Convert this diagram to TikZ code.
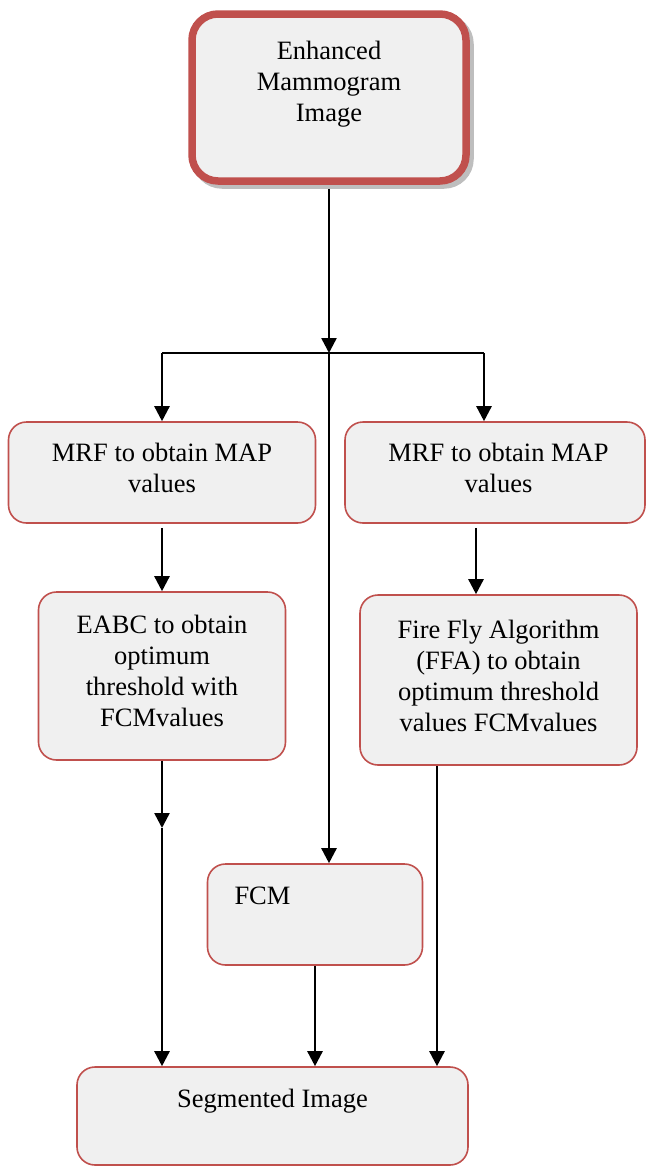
\documentclass[tikz,border=0pt]{standalone}
\usepackage{fontspec}
\setmainfont{Liberation Serif}
\usetikzlibrary{arrows.meta}
\definecolor{boxred}{HTML}{C0504D}
\definecolor{boxfill}{HTML}{F0F0F0}
\definecolor{shadowgray}{HTML}{BEBEBE}
% #1 width, #2 height, #3 first baseline from top, #4 text
\newcommand\mybox[4]{\parbox[c][#2pt][t]{#1pt}{\centering\rule{0pt}{#3pt}#4}}
\newcommand\myleftbox[5]{\parbox[c][#2pt][t]{#1pt}{\hspace*{#4pt}\rule{0pt}{#3pt}#5}}
\begin{document}
\begin{tikzpicture}[x=1pt,y=-1pt,
  box/.style={draw=boxred, fill=boxfill, line width=1.6pt, rounded corners=18pt,
    inner sep=0pt, font=\fontsize{26.5}{31}\selectfont},
  topbox/.style={box, line width=7.5pt, rounded corners=26pt},
  conn/.style={line width=2.5pt, -{Triangle[length=15pt,width=15pt]}},
  plain/.style={line width=2.5pt}
]
\useasboundingbox (0,0) rectangle (646,1167);

% shadow of top box
\filldraw[shadowgray, line width=7.5pt, rounded corners=26pt] (196,18) rectangle (470,185);

\node[topbox] (top) at (329,97.5) {\mybox{274}{167}{45}{Enhanced\\Mammogram\\Image}};
\node[box] (mrf1) at (162,472.5) {\mybox{307}{101}{39}{MRF to obtain MAP\\values}};
\node[box] (mrf2) at (495,472.5) {\mybox{300}{101}{39}{\hspace*{7pt}MRF to obtain MAP\\\hspace*{7pt}values}};
\node[box] (eabc) at (162,676) {\mybox{247}{168}{41}{EABC to obtain\\optimum\\threshold with\\FCMvalues}};
\node[box] (ffa) at (498.5,680) {\mybox{277}{170}{43}{Fire Fly Algorithm\\(FFA) to obtain\\optimum threshold\\values FCMvalues}};
\node[box] (fcm) at (315,914.5) {\myleftbox{215}{101}{40}{27}{FCM}};
\node[box] (seg) at (272.5,1116) {\mybox{391}{98}{40}{Segmented Image}};

\coordinate (j) at (329,353);
\coordinate (jl) at (162,353);
\coordinate (jr) at (484,353);
\coordinate (xa) at (476,0);
\coordinate (xf) at (437,0);
\coordinate (mid) at (162,828);

\draw[conn] ([yshift=-4pt]top.south) -- (j);
\draw[plain] (jl) -- (jr);
\draw[conn] (jl) -- (jl |- mrf1.north);
\draw[conn] (jr) -- (jr |- mrf2.north);
\draw[conn] (j) -- (j |- fcm.north);
\draw[conn] ([yshift=-4pt]mrf1.south) -- (eabc.north);
\draw[conn] ([yshift=-4pt]xa |- mrf2.south) -- (xa |- ffa.north);
\draw[conn] (eabc.south) -- (mid);
\draw[conn] (mid) -- (mid |- seg.north);
\draw[conn] (fcm.south) -- (fcm.south |- seg.north);
\draw[conn] (xf |- ffa.south) -- (xf |- seg.north);
\end{tikzpicture}
\end{document}
